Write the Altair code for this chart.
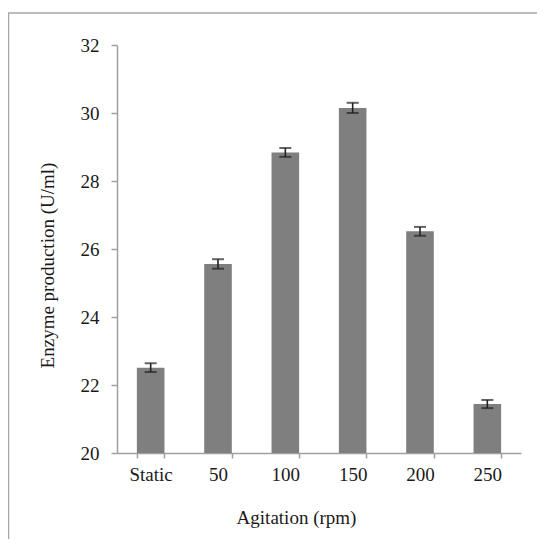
import altair as alt
import pandas as pd

categories = ["Static", "50", "100", "150", "200", "250"]
values = [22.51, 25.56, 28.84, 30.15, 26.52, 21.44]
errors = [0.13, 0.14, 0.13, 0.15, 0.13, 0.12]
y_ticks = [20, 22, 24, 26, 28, 30, 32]

df = pd.DataFrame({
    "cat": categories,
    "val": values,
    "lo": [v - e for v, e in zip(values, errors)],
    "hi": [v + e for v, e in zip(values, errors)],
})

FONT = "Liberation Serif"
AXIS_COLOR = "#a0a0a0"
TEXT = "#1a1a1a"

x_enc = alt.X(
    "cat:N", sort=categories,
    scale=alt.Scale(paddingInner=0.59, paddingOuter=0.295),
    axis=alt.Axis(
        title="Agitation (rpm)", labelAngle=0, tickBand="extent",
        tickSize=5, labelPadding=7, domainColor=AXIS_COLOR, tickColor=AXIS_COLOR,
        domainWidth=1.5, tickWidth=1.5,
        titleX=179, titleY=70, titleBaseline="alphabetic", titleAlign="center",
    ),
)
y_scale = alt.Scale(domain=[20, 32], zero=False, nice=False)

bars = alt.Chart(df).mark_bar(color="#7f7f7f", clip=True).encode(
    x=x_enc,
    y=alt.Y(
        "val:Q", scale=y_scale,
        axis=alt.Axis(
            title="Enzyme production (U/ml)", values=y_ticks, grid=False,
            tickSize=6, labelPadding=12, domainColor=AXIS_COLOR, tickColor=AXIS_COLOR,
            domainWidth=1.5, tickWidth=1.5,
            titleX=-64, titleY=220, titleAngle=270, titleBaseline="alphabetic",
            titleAlign="center",
        ),
    ),
)

err_rule = alt.Chart(df).mark_rule(color="#222222", strokeWidth=1.6).encode(
    x=alt.X("cat:N", sort=categories),
    y=alt.Y("lo:Q", scale=y_scale),
    y2="hi:Q",
)
cap_lo = alt.Chart(df).mark_tick(color="#222222", size=12, thickness=2).encode(
    x=alt.X("cat:N", sort=categories), y=alt.Y("lo:Q", scale=y_scale)
)
cap_hi = alt.Chart(df).mark_tick(color="#222222", size=12, thickness=2).encode(
    x=alt.X("cat:N", sort=categories), y=alt.Y("hi:Q", scale=y_scale)
)

frame_df = pd.DataFrame({"k": [0]})
frame = alt.Chart(frame_df).mark_rect(
    fill=None, fillOpacity=0, stroke="#a6a6a6", strokeWidth=1.5
).encode(
    x=alt.value(-108.5), x2=alt.value(460), y=alt.value(-32), y2=alt.value(540)
)

chart = alt.layer(frame, bars, err_rule, cap_lo, cap_hi).properties(
    width=404, height=408,
    padding={"left": 109, "top": 37, "right": 16, "bottom": 86},
    autosize=alt.AutoSizeParams(type="none"),
).configure_view(stroke=None).configure_axis(
    labelFont=FONT, titleFont=FONT, labelFontSize=19, titleFontSize=19,
    labelColor=TEXT, titleColor=TEXT, titleFontWeight="normal",
)

chart.save("out.html", embed_options={"renderer": "svg", "actions": False})
